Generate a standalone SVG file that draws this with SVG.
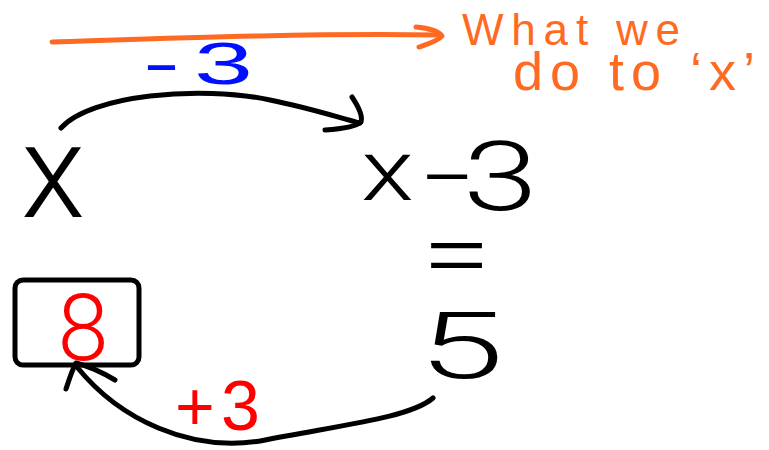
<svg xmlns="http://www.w3.org/2000/svg" width="769" height="450" viewBox="0 0 769 450">
<style>
.ln{fill:none;stroke-width:5;stroke-linecap:round;stroke-linejoin:round}
.k{stroke:#000}
.o{stroke:#FF6A22}
.t{font-family:"Liberation Sans","DejaVu Sans",sans-serif}
.tl{font-family:Roboto,"Open Sans","Liberation Sans",sans-serif;font-weight:300}
</style>
<rect width="769" height="450" fill="#fff"/>
<g id="connectors">
<g id="top-orange-arrow">
<path class="ln o" d="M52,42 C150,39 300,33 438,35"/>
<path class="ln o" d="M416,27 C430,28 440,32 442,36 C438,41 428,44 419,47"/>
</g>
<g id="minus3-arrow">
<path class="ln k" d="M61,128 C90,95 200,85 270,100 C310,108 340,118 360,123"/>
<path class="ln k" d="M352,97 C358,106 363,116 361,122 C356,127 340,129 325,130"/>
</g>
<g id="plus3-arrow">
<path class="ln k" d="M433,398 C410,418 340,425 260,441 C190,452 120,420 77,367"/>
<path class="ln k" d="M66,389 C69,380 72,370 76,363 C88,366 105,374 115,380"/>
</g>
</g>
<g id="note">
<text class="t" fill="#FF6A22"><tspan x="462" y="45" font-size="44" textLength="218" lengthAdjust="spacing">What we</tspan><tspan x="513" y="90" font-size="54" textLength="242" lengthAdjust="spacing">do to ‘x’</tspan></text>
</g>
<g id="label-minus3">
<text class="t" y="84" fill="#0010FF"><tspan x="143" font-size="62" textLength="37" lengthAdjust="spacingAndGlyphs">-</tspan><tspan x="194" font-size="60" textLength="59" lengthAdjust="spacingAndGlyphs">3</tspan></text>
</g>
<g id="node-x">
<text class="tl" x="21" y="217" font-size="132" fill="#000">x</text>
</g>
<g id="node-x-minus-3">
<text class="tl" fill="#000"><tspan x="361" y="200" font-size="86" textLength="53" lengthAdjust="spacingAndGlyphs">x</tspan><tspan x="423" y="205" font-size="90" textLength="49" lengthAdjust="spacingAndGlyphs">-</tspan><tspan x="463" y="210" font-size="97" textLength="75" lengthAdjust="spacingAndGlyphs">3</tspan></text>
</g>
<g id="equals">
<text class="tl" x="0" y="0" font-size="78" fill="#000" transform="translate(422,288) scale(1.6,1.25)">=</text>
</g>
<g id="node-5">
<text class="tl" x="418" y="378" font-size="92" fill="#000" textLength="86" lengthAdjust="spacingAndGlyphs">5</text>
</g>
<g id="node-8">
<rect class="ln k" x="15" y="280" width="124" height="85" rx="8"/>
<text class="tl" x="83" y="360" font-size="92" fill="#FF0000" text-anchor="middle">8</text>
</g>
<g id="label-plus3">
<text class="t" y="430" fill="#FF0000"><tspan x="175" font-size="68">+</tspan><tspan x="221" font-size="70">3</tspan></text>
</g>
</svg>
